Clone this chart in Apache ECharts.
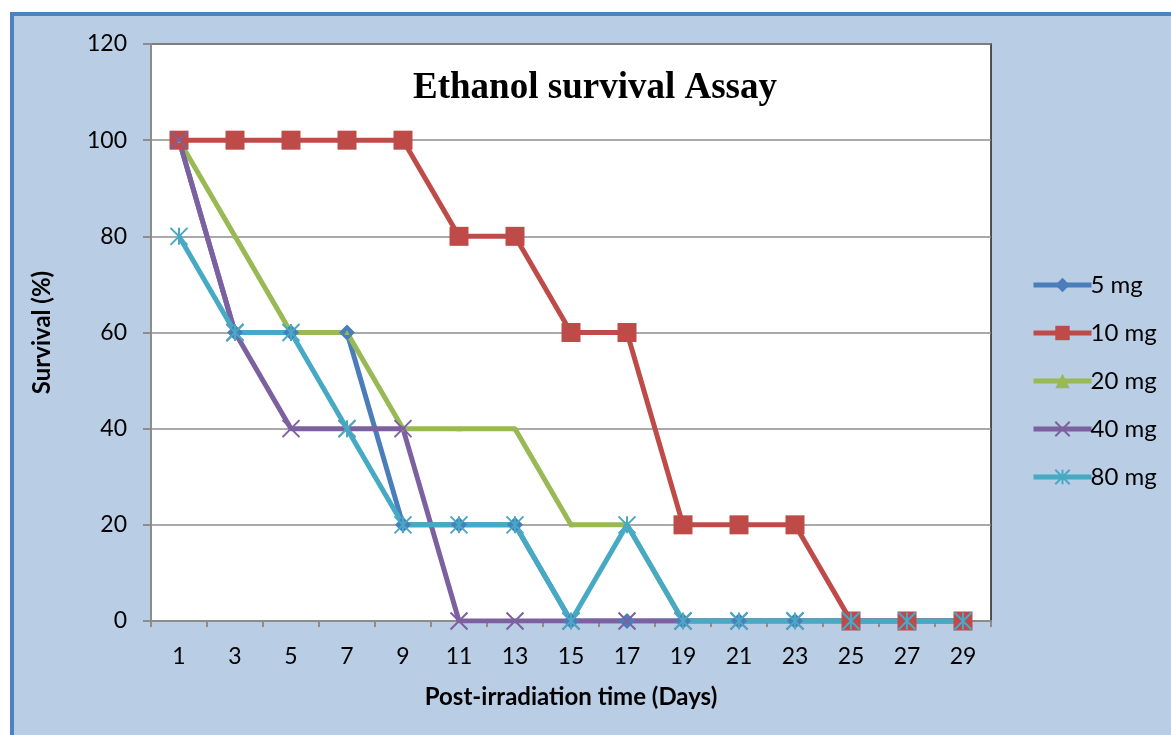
<!DOCTYPE html>
<html>
<head>
<meta charset="utf-8">
<script src="https://cdn.jsdelivr.net/npm/echarts@6/dist/echarts.min.js"></script>
<style>
html,body{margin:0;padding:0;background:#fff;width:1171px;height:735px;overflow:hidden;}
#frame{position:absolute;left:10px;top:12px;width:1300px;height:900px;background:#B9CDE5;border-left:4px solid #4F81BD;border-top:4px solid #4F81BD;box-sizing:border-box;}
#main{position:absolute;left:0;top:0;width:1171px;height:735px;}
</style>
</head>
<body>
<div id="frame"></div>
<div id="main"></div>
<script>
const days = ['1','3','5','7','9','11','13','15','17','19','21','23','25','27','29'];
const s5mg  = [100,60,60,60,20,20,20,0,0,0,0,0,0,0,0];
const s10mg = [100,100,100,100,100,80,80,60,60,20,20,20,0,0,0];
const s20mg = [100,80,60,60,40,40,40,20,20,0,0,0,0,0,0];
const s40mg = [100,60,40,40,40,0,0,0,0,0,0,0,0,0,0];
const s80mg = [80,60,60,40,20,20,20,0,20,0,0,0,0,0,0];
const yTicks = [0,20,40,60,80,100,120];

const chart = echarts.init(document.getElementById('main'), null, {renderer:'canvas'});
const font = 'Lato, "Open Sans", "Liberation Sans", sans-serif';
function ser(name, data, color, symbol, size, filled){
  return {
    name, type:'line', data, symbol, symbolSize:size, showSymbol:true,
    lineStyle:{color, width:5},
    itemStyle: filled ? {color, borderColor:color, borderWidth:0} : {color:'none', borderColor:color, borderWidth:2},
    color, animation:false
  };
}
chart.setOption({
  backgroundColor:'transparent',
  animation:false,
  title:{text:'Ethanol survival Assay', left:590, top:65, textAlign:'center',
    textStyle:{fontFamily:'"Liberation Serif", "Times New Roman", serif', fontWeight:'bold', fontSize:37, color:'#000'}},
  grid:{left:151, right:180, top:44, bottom:114, show:true, backgroundColor:'#fff', borderColor:'#222', borderWidth:1.5, containLabel:false},
  legend:{orient:'vertical', left:1026, top:268, itemWidth:58, itemHeight:18, itemGap:24,
    lineStyle:{width:5},
    textStyle:{fontFamily:font, fontSize:24, color:'#000', padding:[0,0,0,-6]},
    data:['5 mg','10 mg','20 mg','40 mg','80 mg']},
  xAxis:{type:'category', data:days, boundaryGap:true,
    name:'Post-irradiation time (Days)', nameLocation:'middle', nameGap:64,
    nameTextStyle:{fontFamily:font, fontWeight:'bold', fontSize:24, color:'#000'},
    axisLine:{lineStyle:{color:'#8c8c8c', width:2}},
    axisTick:{show:true, alignWithLabel:false, length:6, lineStyle:{color:'#8c8c8c', width:2}},
    axisLabel:{fontFamily:font, fontSize:23, color:'#000', margin:24, interval:0},
    splitLine:{show:false}},
  yAxis:{type:'value', min:0, max:120, interval:20,
    name:'Survival (%)', nameLocation:'middle', nameGap:97, nameRotate:90,
    nameTextStyle:{fontFamily:font, fontWeight:'bold', fontSize:24, color:'#000'},
    axisLine:{show:true, lineStyle:{color:'#8c8c8c', width:2}},
    axisTick:{show:true, length:8, lineStyle:{color:'#8c8c8c', width:2}},
    axisLabel:{fontFamily:font, fontSize:23, color:'#000', margin:24,
      formatter:v=> yTicks.includes(v) ? String(v) : ''},
    splitLine:{show:true, lineStyle:{color:'#8c8c8c', width:1.5}}},
  series:[
    ser('5 mg', s5mg, '#4A7EBB', 'diamond', 16, true),
    ser('10 mg', s10mg, '#BE4B48', 'rect', 19, true),
    ser('20 mg', s20mg, '#98B954', 'triangle', 5, true),
    ser('40 mg', s40mg, '#7D60A0', 'path://M0,0L10,10M10,0L0,10', 17, false),
    ser('80 mg', s80mg, '#46AAC5', 'path://M0,0L10,10M10,0L0,10M5,0L5,10', 17, false)
  ]
});
</script>
</body>
</html>
